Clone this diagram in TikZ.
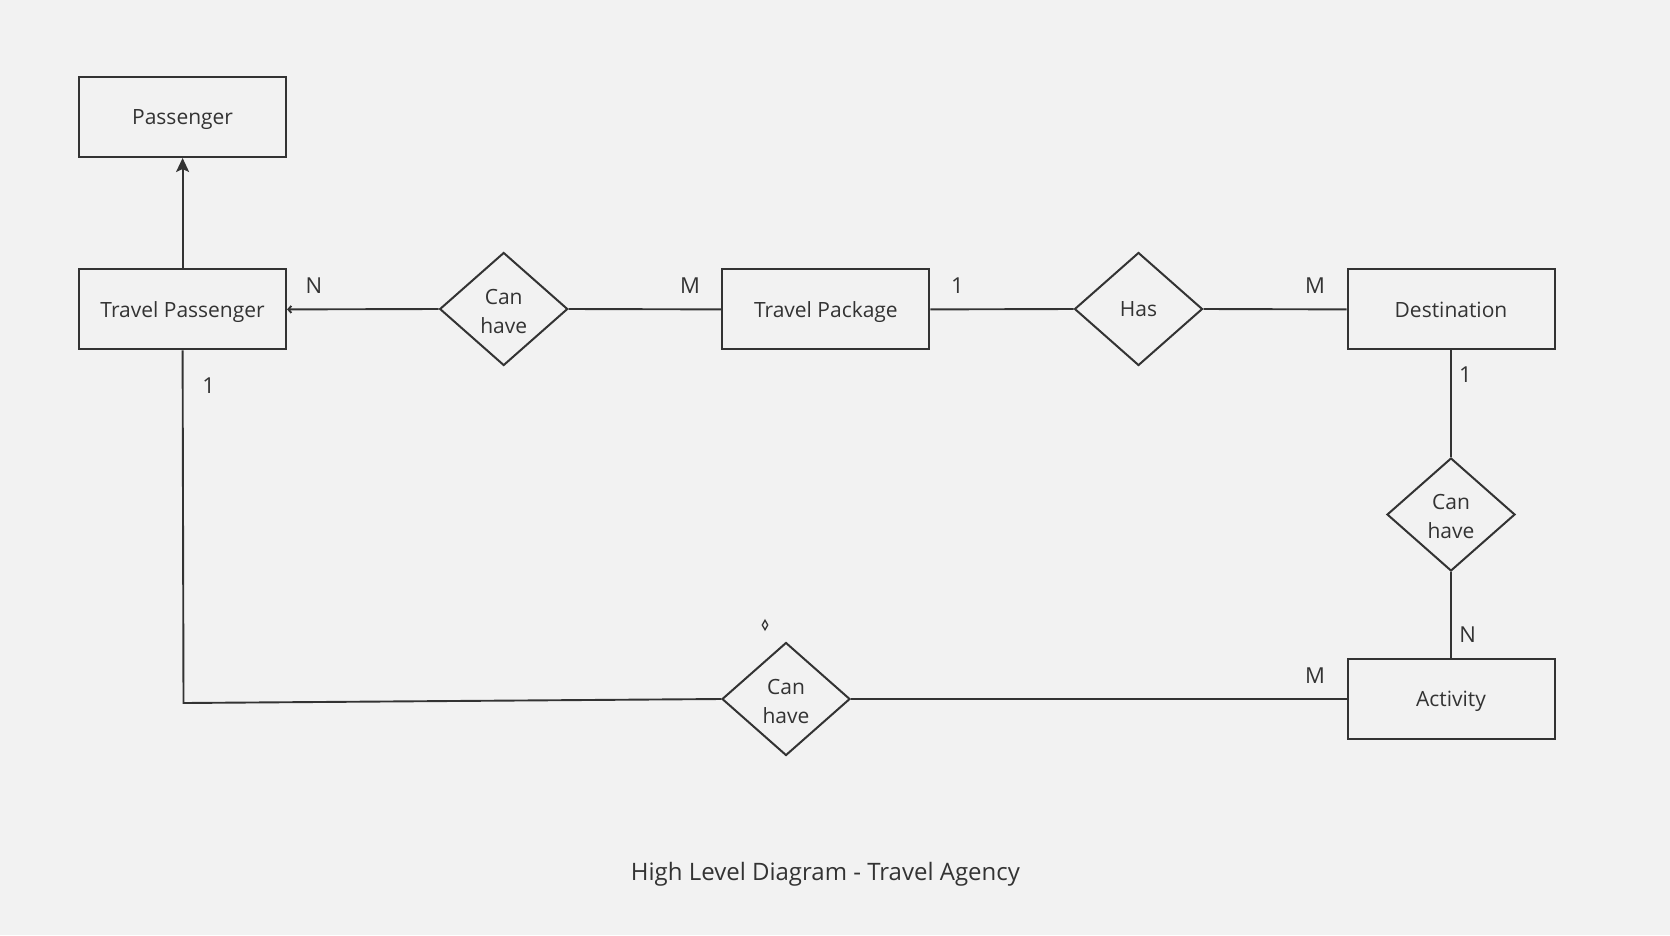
\documentclass[tikz,border=0pt]{standalone}
\usepackage{fontspec}
\setmainfont{Open Sans}
\usetikzlibrary{shapes.geometric,arrows.meta}
\definecolor{bg}{HTML}{F2F2F2}
\definecolor{ink}{HTML}{333333}
\tikzset{
  ent/.style={draw=ink, line width=2pt, rectangle, minimum width=207pt, minimum height=80pt, inner sep=0pt, text depth=0pt, text=ink, font=\fontsize{21}{29}\selectfont},
  rel/.style={draw=ink, line width=2pt, diamond, minimum width=128pt, minimum height=113pt, inner sep=0pt, align=center, text=ink, font=\fontsize{21}{29}\selectfont},
  conn/.style={draw=ink, line width=1.9pt},
  card/.style={text=ink, font=\fontsize{22}{26}\selectfont, inner sep=0pt}
}
\begin{document}
\begin{tikzpicture}[x=1pt,y=-1pt]
\fill[bg] (0,0) rectangle (1670,935);
\useasboundingbox (0,0) rectangle (1670,935);
\node[ent] (pass) at (182.6,117) {Passenger};
\node[ent] (tpass) at (182.6,309.4) {Travel Passenger};
\node[ent] (tpack) at (825.9,309.4) {Travel Package};
\node[ent] (dest) at (1451,309.4) {Destination};
\node[ent] (act) at (1451,699) {Activity};
\node[rel] (r1) at (503.7,309) {\rule{0pt}{20pt}Can\\have};
\node[rel, text depth=0pt] (r2) at (1138.5,309) {Has};
\node[rel] (r3) at (1451,514.5) {\rule{0pt}{20pt}Can\\have};
\node[rel] (r4) at (786,699) {\rule{0pt}{20pt}Can\\have};
\coordinate (corner) at (183.5,703);
\draw[conn, -{Stealth[length=14pt,width=13pt,inset=3pt]}] (tpass.north) -- (pass.south);
\draw[conn, -{Straight Barb[length=3pt,width=7pt]}] (r1.west) -- (tpass.east);
\draw[conn] (r1.east) -- (tpack.west);
\draw[conn] (tpack.east) -- (r2.west);
\draw[conn] (r2.east) -- (dest.west);
\draw[conn] (dest.south) -- (r3.north);
\draw[conn] (r3.south) -- (act.north);
\draw[conn] (r4.east) -- (act.west);
\draw[conn] (tpass.south) -- (corner) -- (r4.west);
\node[draw=ink, line width=1.3pt, diamond, minimum width=6pt, minimum height=10pt, inner sep=0pt] (tiny) at (765,625) {};
\node[card] (n1) at (314,285.4) {N};
\node[card] (m1) at (690,285.4) {M};
\node[card] (o1) at (957.4,285.4) {1};
\node[card] (m2) at (1315,285.4) {M};
\node[card] (o2) at (1465.4,375) {1};
\node[card] (n2) at (1467.6,634.7) {N};
\node[card] (m3) at (1315,676) {M};
\node[card] (o3) at (208.7,385.5) {1};
\node[text=ink, font=\fontsize{24}{28}\selectfont] (title) at (825.4,874) {High Level Diagram - Travel Agency};
\end{tikzpicture}
\end{document}
